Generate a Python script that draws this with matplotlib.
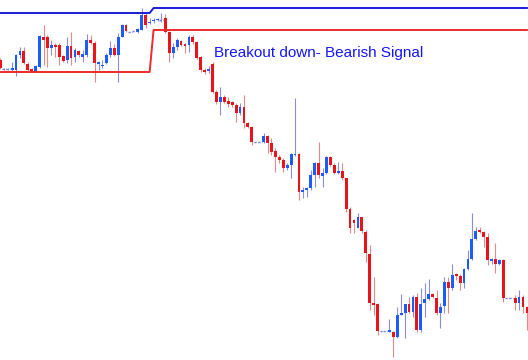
import numpy as np
import matplotlib
matplotlib.use("Agg")
import matplotlib.pyplot as plt

# candle values (price units, higher = up)
opens = [300, 291, 291, 290, 290, 305, 309, 296, 291, 288,
         293, 323, 323, 312, 315, 315, 304, 300, 314, 303,
         309, 303, 305, 320, 317, 296, 294, 297, 305, 312,
         305, 323, 335, 328, 329, 328, 330, 345, 337, 339,
         340, 340, 342, 328, 307, 313, 319, 316, 315, 323,
         318, 303, 290, 289, 296, 268, 258, 263, 259, 258,
         255, 247, 253, 237, 233, 218, 218, 218, 224, 217,
         209, 203, 200, 192, 195, 205, 206, 168, 170, 172,
         185, 197, 184, 187, 203, 195, 187, 189, 182, 151,
         140, 132, 143, 128, 106, 57, 56, 29, 29, 28,
         28, 23, 45, 47, 56, 48, 63, 30, 57, 61,
         66, 62, 47, 54, 78, 72, 86, 84, 77, 91,
         101, 121, 130, 128, 123, 99, 101, 96, 100, 62,
         62, 62, 57, 63, 53]
highs = [302, 292, 292, 298, 306, 313, 313, 298, 292, 295,
         325, 335, 325, 320, 317, 317, 305, 323, 328, 312,
         310, 310, 326, 325, 319, 299, 300, 307, 319, 316,
         327, 336, 336, 328, 329, 332, 352, 348, 342, 342,
         342, 347, 346, 329, 317, 322, 320, 317, 325, 325,
         319, 304, 292, 294, 298, 270, 273, 265, 263, 259,
         257, 257, 265, 238, 234, 218, 218, 227, 225, 222,
         212, 205, 202, 197, 207, 262, 207, 173, 173, 190,
         198, 218, 192, 204, 204, 197, 198, 197, 182, 153,
         141, 147, 143, 130, 115, 83, 57, 29, 29, 41,
         29, 53, 66, 56, 63, 65, 67, 72, 77, 81,
         67, 70, 57, 83, 83, 96, 87, 86, 92, 110,
         147, 133, 133, 129, 127, 102, 117, 101, 101, 62,
         62, 65, 70, 65, 54]
lows = [291, 290, 290, 289, 284, 302, 296, 288, 288, 288,
        292, 295, 293, 305, 303, 295, 298, 297, 295, 298,
        303, 298, 303, 316, 278, 290, 292, 296, 303, 304,
        278, 323, 328, 328, 329, 327, 330, 332, 336, 337,
        339, 338, 327, 298, 302, 310, 314, 307, 308, 316,
        301, 288, 286, 287, 267, 256, 245, 257, 253, 253,
        238, 245, 232, 232, 215, 218, 218, 217, 207, 205,
        188, 197, 188, 190, 182, 204, 160, 162, 163, 170,
        173, 182, 173, 186, 194, 186, 186, 180, 148, 127,
        127, 132, 127, 98, 50, 45, 25, 29, 29, 28,
        3, 22, 45, 22, 47, 43, 28, 28, 43, 60,
        62, 45, 32, 47, 47, 70, 80, 70, 72, 90,
        100, 120, 127, 113, 95, 96, 87, 95, 58, 62,
        62, 50, 50, 47, 30]
closes = [292, 291, 291, 292, 305, 309, 297, 290, 289, 294,
          324, 320, 312, 315, 313, 303, 299, 314, 302, 310,
          305, 306, 320, 317, 297, 298, 295, 305, 312, 305,
          323, 335, 329, 328, 329, 331, 345, 335, 338, 340,
          341, 340, 328, 307, 313, 320, 315, 314, 323, 318,
          302, 290, 288, 291, 268, 258, 263, 258, 256, 255,
          247, 253, 237, 233, 218, 218, 218, 224, 217, 208,
          203, 200, 192, 195, 206, 206, 168, 170, 172, 185,
          197, 185, 187, 203, 195, 187, 189, 182, 151, 132,
          137, 143, 129, 107, 57, 55, 29, 29, 29, 30,
          23, 45, 47, 56, 48, 63, 30, 56, 61, 66,
          63, 47, 53, 78, 72, 85, 84, 77, 91, 101,
          121, 129, 128, 123, 100, 101, 96, 100, 62, 62,
          62, 57, 63, 53, 47]

# channel lines (highest high / lowest low)
channel_top = [347] * 39 + [352] * 96
channel_bottom = [288] * 39 + [330] * 96

label = "Breakout down- Bearish Signal"

o = np.array(opens, dtype=float)
h = np.array(highs, dtype=float)
l = np.array(lows, dtype=float)
c = np.array(closes, dtype=float)
x = np.arange(len(o))

fig = plt.figure(figsize=(5.28, 3.6), dpi=100)
ax = fig.add_axes([0, 0, 1, 1])
ax.set_axis_off()

up = c > o
down = c < o
flat = c == o

blue = "#1a5cff"
red = "#e8141a"

# wicks
ax.vlines(x[up], l[up], h[up], color="#8c8ce0", lw=0.8, zorder=1)
ax.vlines(x[down], l[down], h[down], color="#e58a8a", lw=0.8, zorder=1)
ax.vlines(x[flat], l[flat], h[flat], color="#8c8ce0", lw=0.8, zorder=1)

# bodies
ax.bar(x[up], c[up] - o[up], bottom=o[up], width=0.72, color=blue, lw=0, zorder=2)
ax.bar(x[down], c[down] - o[down], bottom=o[down], width=0.72, color=red, lw=0, zorder=2)
ax.hlines(c[flat], x[flat] - 0.5, x[flat] + 0.5, color="#6f7fe8", lw=1,
          linestyles=(0, (1.5, 1)), zorder=2)

# channel
ax.plot(x, channel_top, color="#1c1cd8", lw=1.4, zorder=3)
ax.plot(x, channel_bottom, color="#ee2a2a", lw=1.4, zorder=3)

fig.text(214 / 528, 1 - 57 / 360, label, color="#1414ff", fontsize=11,
         family="Liberation Sans", va="baseline", ha="left")

ax.set_xlim(-0.3 / 3.93, 527.7 / 3.93)
ax.set_ylim(0, 360)

fig.savefig("out.png", dpi=100, facecolor="white")
